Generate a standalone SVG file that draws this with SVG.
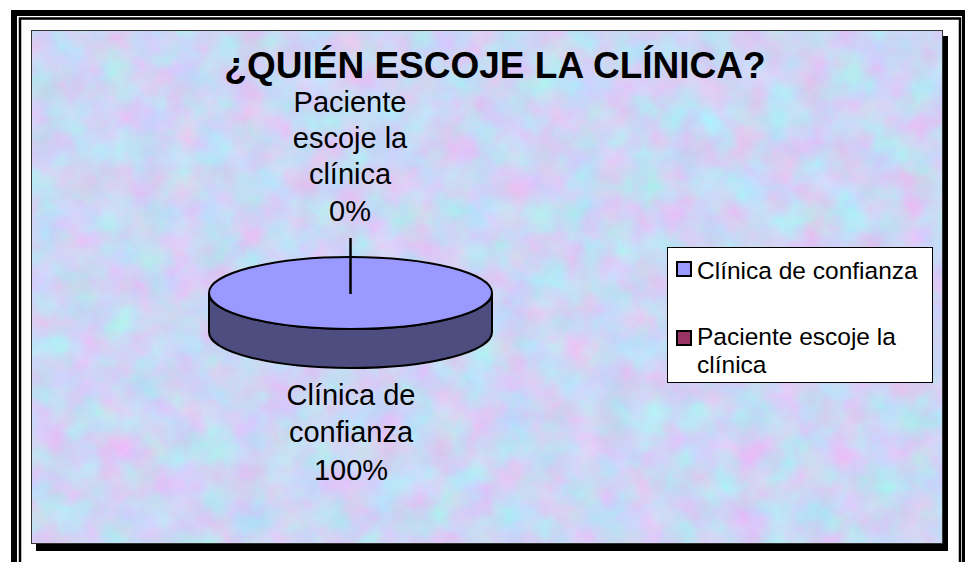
<svg xmlns="http://www.w3.org/2000/svg" width="965" height="562" viewBox="0 0 965 562">
  <defs>
    <filter id="tex" x="0" y="0" width="100%" height="100%" color-interpolation-filters="sRGB">
      <feTurbulence type="fractalNoise" baseFrequency="0.03" numOctaves="4" seed="7" result="n"/>
      <feColorMatrix in="n" type="matrix" values="0.32 0 0 0 0.64  -0.22 0.12 0 0 0.89  0 0 0.1 0 0.91  0 0 0 0 1"/>
    </filter>
    <style>
      .lbl { font-family: "Liberation Sans", Arial, sans-serif; font-size: 29px; fill: #000; text-anchor: middle; }
      .leg { font-family: "Liberation Sans", Arial, sans-serif; font-size: 24.5px; fill: #000; }
      .title { font-family: "Liberation Sans", Arial, sans-serif; font-size: 37px; font-weight: bold; fill: #000; text-anchor: middle; }
      .sw { stroke: #000; stroke-width: 2; }
    </style>
  </defs>
  <rect width="965" height="562" fill="#fff"/>
  <g id="frame" fill="none" stroke="#000">
    <rect x="14" y="13" width="951" height="560" stroke-width="6"/>
    <rect x="20" y="18.5" width="940" height="560" stroke-width="2.5"/>
  </g>
  <g id="chart-area">
    <rect x="36" y="36" width="912" height="515" fill="#000"/>
    <rect x="31" y="30" width="912" height="514" filter="url(#tex)"/>
    <rect x="31.5" y="30.5" width="911" height="513" fill="none" stroke="#333" stroke-width="1"/>
  </g>
  <g id="title">
    <text class="title" x="495" y="78">¿QUIÉN ESCOJE LA CLÍNICA?</text>
  </g>
  <g id="pie">
    <path d="M209,293 L209,332 A141.5,36 0 0 0 492,332 L492,293 A141.5,36 0 0 1 209,293 Z" fill="#4d4d80" class="sw"/>
    <ellipse cx="350.5" cy="293" rx="141.5" ry="36" fill="#9999ff" class="sw"/>
  </g>
  <g id="connectors">
    <line x1="350.5" y1="238" x2="350.5" y2="294" stroke="#000" stroke-width="2.5"/>
  </g>
  <g id="label-paciente">
    <text class="lbl" x="350" y="112">Paciente</text>
    <text class="lbl" x="350" y="148">escoje la</text>
    <text class="lbl" x="350" y="184">clínica</text>
    <text class="lbl" x="350" y="221">0%</text>
  </g>
  <g id="label-clinica">
    <text class="lbl" x="351" y="405">Clínica de</text>
    <text class="lbl" x="351" y="442">confianza</text>
    <text class="lbl" x="351" y="480">100%</text>
  </g>
  <g id="legend">
    <rect x="667.5" y="247.5" width="265" height="135" fill="#fff" stroke="#000" stroke-width="1"/>
    <rect x="677" y="262" width="14" height="14" fill="#9999ff" class="sw"/>
    <text class="leg" x="697" y="279">Clínica de confianza</text>
    <rect x="677" y="331" width="14" height="14" fill="#993366" class="sw"/>
    <text class="leg" x="697" y="345">Paciente escoje la</text>
    <text class="leg" x="697" y="373">clínica</text>
  </g>
</svg>
